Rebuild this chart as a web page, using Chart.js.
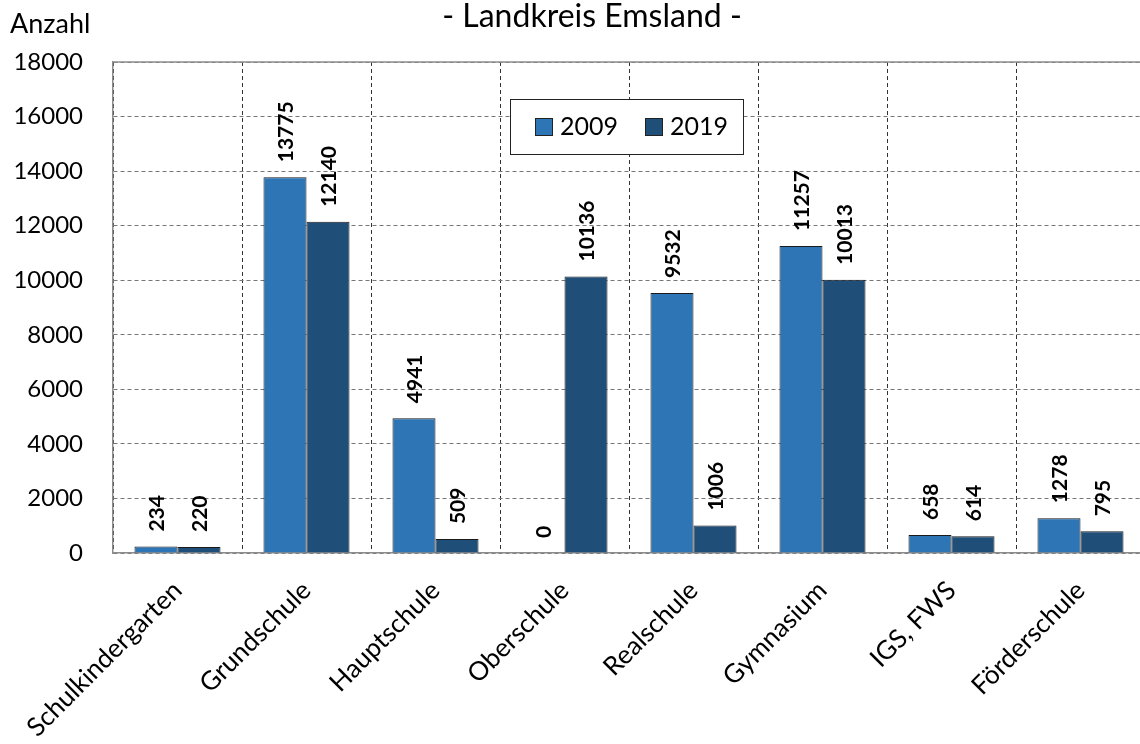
<!DOCTYPE html>
<html>
<head>
<meta charset="utf-8">
<script src="https://cdn.jsdelivr.net/npm/chart.js@4"></script>
<style>
  html, body { margin: 0; padding: 0; background: #fff; overflow: hidden; }
  /* Plotbereich laeuft rechts etwas ueber den Rand hinaus wie im Original */
  #wrap { width: 1145px; height: 744px; }
</style>
</head>
<body>
<div id="wrap"><canvas id="chart"></canvas></div>
<script>
var labels = ['Schulkindergarten', 'Grundschule', 'Hauptschule', 'Oberschule', 'Realschule', 'Gymnasium', 'IGS, FWS', 'Förderschule'];
var werte2009 = [234, 13775, 4941, 0, 9532, 11257, 658, 1278];
var werte2019 = [220, 12140, 509, 10136, 1006, 10013, 614, 795];
var jahre = ['2009', '2019'];
var farben = ['#2E75B6', '#1F4E79'];

var FONT = 'Lato, "Open Sans", sans-serif';

// Beschriftungen ueber den Balken (senkrecht)
var wertePlugin = {
  id: 'werte',
  afterDatasetsDraw: function(chart) {
    var ctx = chart.ctx;
    ctx.save();
    ctx.font = 'bold 21px ' + FONT;
    ctx.fillStyle = '#000';
    ctx.textAlign = 'left';
    ctx.textBaseline = 'middle';
    chart.data.datasets.forEach(function(ds, i) {
      chart.getDatasetMeta(i).data.forEach(function(bar, j) {
        ctx.save();
        ctx.translate(bar.x + 1, bar.y - 15);
        ctx.rotate(-Math.PI / 2);
        ctx.fillText(String(ds.data[j]), 0, 0);
        ctx.restore();
      });
    });
    ctx.restore();
  }
};

// Titel, Achsentitel, Rahmen oben und Legende
var rahmenPlugin = {
  id: 'rahmen',
  afterDraw: function(chart) {
    var ctx = chart.ctx;
    var a = chart.chartArea;
    ctx.save();
    ctx.strokeStyle = '#8c8c8c';
    ctx.lineWidth = 1.5;
    ctx.beginPath();
    ctx.moveTo(a.left, a.top);
    ctx.lineTo(a.right, a.top);
    ctx.stroke();

    ctx.fillStyle = '#000';
    ctx.font = '32px ' + FONT;
    ctx.textAlign = 'center';
    ctx.textBaseline = 'alphabetic';
    ctx.fillText('- Landkreis Emsland -', 592, 27);

    ctx.font = '27px ' + FONT;
    ctx.textAlign = 'left';
    ctx.fillText('Anzahl', 10, 33);

    // Legende
    ctx.fillStyle = '#fff';
    ctx.fillRect(510, 99, 233, 55);
    ctx.strokeStyle = '#222';
    ctx.lineWidth = 1;
    ctx.strokeRect(510.5, 99.5, 233, 55);
    var xs = [535, 645];
    chart.data.datasets.forEach(function(ds, i) {
      ctx.fillStyle = ds.backgroundColor;
      ctx.fillRect(xs[i], 118, 17, 17);
      ctx.strokeStyle = '#222';
      ctx.strokeRect(xs[i] + 0.5, 118.5, 17, 17);
      ctx.fillStyle = '#000';
      ctx.font = '25px ' + FONT;
      ctx.textBaseline = 'middle';
      ctx.fillText(ds.label, xs[i] + 25, 127);
    });
    ctx.restore();
  }
};

var optionen = {
  type: 'bar',
  data: {
    labels: labels,
    datasets: [{
      label: jahre[0],
      data: werte2009,
      backgroundColor: farben[0],
      borderColor: '#1a1a1a',
      borderWidth: 1
    }, {
      label: jahre[1],
      data: werte2019,
      backgroundColor: farben[1],
      borderColor: '#1a1a1a',
      borderWidth: 1
    }]
  },
  plugins: [wertePlugin, rahmenPlugin],
  options: {
    responsive: true,
    maintainAspectRatio: false,
    animation: false,
    layout: { padding: { top: 62, left: 0, right: 0, bottom: 0 } },
    datasets: {
      bar: { categoryPercentage: 0.667, barPercentage: 1.0 }
    },
    plugins: {
      legend: { display: false },
      title: { display: false },
      tooltip: { enabled: false }
    },
    scales: {
      x: {
        grid: {
          offset: true,
          color: '#333',
          lineWidth: 1,
          drawTicks: false
        },
        border: { display: true, color: '#8c8c8c', width: 1.5, dash: [4, 3] },
        ticks: {
          font: { family: FONT, size: 26 },
          color: '#000',
          minRotation: 45,
          maxRotation: 45,
          autoSkip: false,
          padding: 22,
          labelOffset: 0
        },
        afterFit: function(scale) { scale.height = 191; }
      },
      y: {
        min: 0,
        max: 18000,
        grid: {
          color: '#777',
          lineWidth: 1,
          drawTicks: false
        },
        border: { display: true, color: '#8c8c8c', width: 1.5, dash: [4, 3] },
        ticks: {
          stepSize: 2000,
          font: { family: FONT, size: 24 },
          color: '#000',
          padding: 30,
          callback: function(v) { return String(v); }
        },
        afterFit: function(scale) { scale.width = 113; }
      }
    }
  }
};

var ctx = document.getElementById('chart').getContext('2d');
var chart = new Chart(ctx, optionen);
</script>
</body>
</html>
